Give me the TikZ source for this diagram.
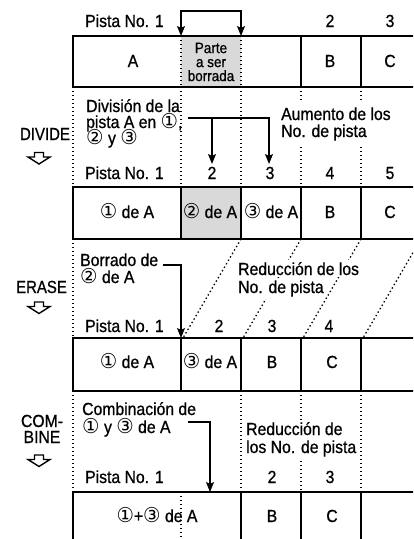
\documentclass[tikz,border=0pt]{standalone}
\usepackage{fontspec}
\setmainfont{Liberation Sans}[FakeStretch=0.9, FakeBold=0.8]
\newfontfamily\cfont{DejaVu Sans}[FakeStretch=0.95]
\usepackage{graphicx}
\usetikzlibrary{arrows.meta}
\newcommand\cn[1]{{\cfont\fontsize{20.5}{16}\selectfont\raisebox{-0.6pt}{#1}}}
\definecolor{shadegray}{HTML}{D9D9D9}
\tikzset{
  boxline/.style={line width=1.8pt, line join=miter},
  dotline/.style={line width=1.3pt, dash pattern=on 1.4pt off 2.6pt},
  lb/.style={inner sep=0pt, anchor=base, font=\fontsize{17.5}{17.5}\selectfont},
  lw/.style={inner sep=0pt, anchor=base west, font=\fontsize{17.5}{17.5}\selectfont},
  arrline/.style={line width=1.2pt, line join=miter},
  arr/.style={arrline, -{Stealth[length=10pt,width=8pt,inset=2pt]}},
  hollowdown/.pic={\draw[line width=1.4pt, line join=miter]
     (-4.5,0) -- (4.5,0) -- (4.5,4.5) -- (11,4.5) -- (0,11.5) -- (-11,4.5) -- (-4.5,4.5) -- cycle;}
}
\begin{document}
\begin{tikzpicture}[x=1pt,y=-1pt]
\clip (0,0) rectangle (413,539);
\fill[white] (0,0) rectangle (413,539);
% shaded cells
\fill[shadegray] (181,36) rectangle (241,87);
\fill[shadegray] (181,187) rectangle (241,239);
% dotted lines
\draw[dotline] (181,36) -- (181,87);
\draw[dotline] (241,36) -- (241,87);
\draw[dotline] (73,87) -- (73,187);
\draw[dotline] (181,87) -- (181,187);
\draw[dotline] (241,87) -- (241,187);
\draw[dotline] (301,87) -- (301,101);
\draw[dotline] (301,147) -- (301,187);
\draw[dotline] (361,87) -- (361,101);
\draw[dotline] (361,147) -- (361,187);
\draw[dotline] (73,239) -- (73,338);
\draw[dotline] (241,239) -- (183,338);
\draw[dotline] (301,239) -- (243,338);
\draw[dotline] (361,239) -- (303,338);
\draw[dotline] (421,239) -- (363,338);
\draw[dotline] (73,391) -- (73,492);
\draw[dotline] (241,391) -- (241,492);
\draw[dotline] (301,391) -- (301,421);
\draw[dotline] (301,461) -- (301,492);
\draw[dotline] (361,391) -- (361,492);
\draw[dotline] (181,492) -- (181,545);
% boxes
\draw[boxline] (420,36) -- (73,36) -- (73,87) -- (420,87);
\draw[boxline] (301,36) -- (301,87) (361,36) -- (361,87);
\draw[boxline] (420,187) -- (73,187) -- (73,239) -- (420,239);
\draw[boxline] (181,187) -- (181,239) (241,187) -- (241,239) (301,187) -- (301,239) (361,187) -- (361,239);
\draw[boxline] (420,338) -- (73,338) -- (73,391) -- (420,391);
\draw[boxline] (181,338) -- (181,391) (241,338) -- (241,391) (301,338) -- (301,391) (361,338) -- (361,391);
\draw[boxline] (73,545) -- (73,492) -- (420,492);
\draw[boxline] (241,492) -- (241,545) (301,492) -- (301,545) (361,492) -- (361,545);
% row 1
\node[lw] (p1) at (85,27) {Pista No. 1};
\node[lb] (r1n2) at (330,27) {2};
\node[lb] (r1n3) at (390,27) {3};
\node[lb] (r1A) at (133,67) {A};
\node[lb] (r1B) at (330,67) {B};
\node[lb] (r1C) at (390,67) {C};
\node[inner sep=0pt, align=center, font=\fontsize{15}{14}\selectfont] (parte) at (211,62) {Parte\\a ser\\borrada};
% divide
\node[lb] (divide) at (45,140) {\scalebox{0.95}[1]{DIVIDE}};
\pic at (39,152.5) {hollowdown};
\node[lw] (dv1) at (86,112) {División de la};
\node[lw] (dv2) at (86,128) {pista A en \cn{①},};
\node[lw] (dv3) at (86,144) {\cn{②} y \cn{③}};
\node[lw] (au1) at (281,120) {Aumento de los};
\node[lw] (au2) at (281,137) {No. de pista};
% row 2
\node[lw] (p2) at (85,179) {Pista No. 1};
\node[lb] (r2n2) at (212,179) {2};
\node[lb] (r2n3) at (270,179) {3};
\node[lb] (r2n4) at (330,179) {4};
\node[lb] (r2n5) at (390,179) {5};
\node[lb] (r2a) at (127,218) {\cn{①} de A};
\node[lb] (r2b) at (210,218) {\cn{②} de A};
\node[lb] (r2c) at (271,218) {\cn{③} de A};
\node[lb] (r2B) at (330,218) {B};
\node[lb] (r2C) at (390,218) {C};
% erase
\node[lb] (erase) at (41.5,293) {\scalebox{0.95}[1]{ERASE}};
\pic at (39,302) {hollowdown};
\node[lw] (br1) at (80,266) {Borrado de};
\node[lw] (br2) at (80,283) {\cn{②} de A};
\node[lw, fill=white, inner xsep=1pt, inner ysep=2pt] (rd1) at (237,275) {Reducción de los};
\node[lw, fill=white, inner xsep=1pt, inner ysep=2pt] (rd2) at (237,293) {No. de pista};
% row 3
\node[lw] (p3) at (85,332) {Pista No. 1};
\node[lb] (r3n2) at (219,332) {2};
\node[lb] (r3n3) at (272,332) {3};
\node[lb] (r3n4) at (329,332) {4};
\node[lb] (r3a) at (127,368) {\cn{①} de A};
\node[lb] (r3c) at (210,368) {\cn{③} de A};
\node[lb] (r3B) at (272,368) {B};
\node[lb] (r3C) at (332,368) {C};
% combine
\node[lb] (com1) at (42,427) {COM-};
\node[lb] (com2) at (42,443) {BINE};
\pic at (39,455) {hollowdown};
\node[lw] (cb1) at (82,415) {Combinación de};
\node[lw] (cb2) at (82,433) {\cn{①} y \cn{③} de A};
\node[lw] (rc1) at (246,435) {Reducción de};
\node[lw] (rc2) at (246,453) {los No. de pista};
% row 4
\node[lw] (p4) at (85,483) {Pista No. 1};
\node[lb] (r4n2) at (272,483) {2};
\node[lb] (r4n3) at (330,483) {3};
\node[lb] (r4a) at (157,522) {\cn{①}+\cn{③} de A};
\node[lb] (r4B) at (272,522) {B};
\node[lb] (r4C) at (332,522) {C};
% arrows
\coordinate (bkL) at (181,11);
\coordinate (bkR) at (241,11);
\coordinate (tpL) at (181,36);
\coordinate (tpR) at (241,36);
\draw[arrline, {Stealth[length=10pt,width=8pt,inset=2pt]}-{Stealth[length=10pt,width=8pt,inset=2pt]}] (tpL) -- (bkL) -- (bkR) -- (tpR);
\coordinate (dvs) at (188,118);
\coordinate (dvj) at (212,118);
\coordinate (dvc) at (269,118);
\coordinate (dvt2) at (212,164);
\coordinate (dvt3) at (269,164);
\draw[arr] (dvs) -- (dvc) -- (dvt3);
\draw[arr] (dvj) -- (dvt2);
\coordinate (ers) at (163,265);
\coordinate (erc) at (181,265);
\coordinate (ert) at (181,338);
\draw[arr] (ers) -- (erc) -- (ert);
\coordinate (cbs) at (188,422);
\coordinate (cbc) at (210,422);
\coordinate (cbt) at (210,492);
\draw[arr] (cbs) -- (cbc) -- (cbt);
\end{tikzpicture}
\end{document}
